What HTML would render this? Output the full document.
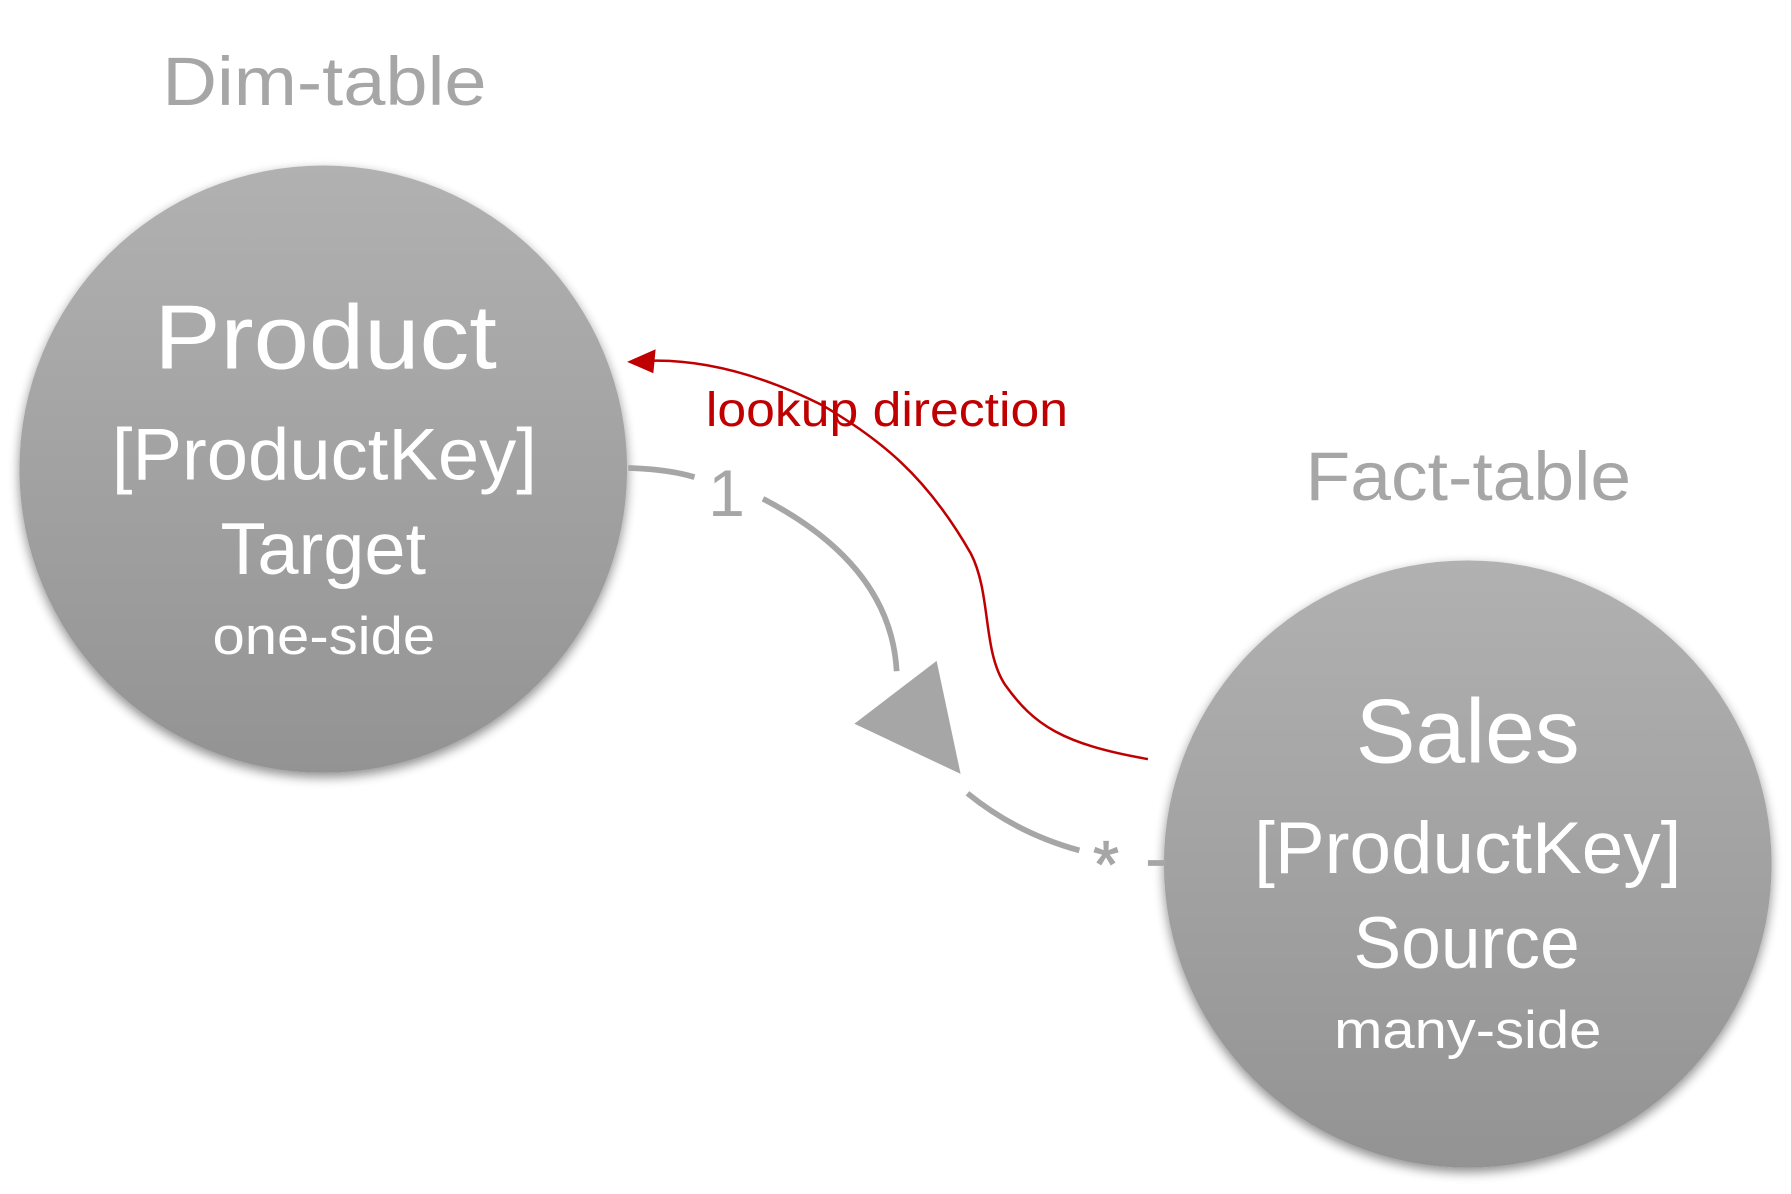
<!DOCTYPE html>
<html><head><meta charset="utf-8"><style>
html,body{margin:0;padding:0;background:#fff;}
svg{display:block;}
text{font-family:"Liberation Sans",sans-serif;}
</style></head><body>
<svg width="1791" height="1194" viewBox="0 0 1568 1046" preserveAspectRatio="none" xmlns="http://www.w3.org/2000/svg">
<defs>
<linearGradient id="g" x1="0" y1="0" x2="0" y2="1">
<stop offset="0" stop-color="#b1b1b1"/><stop offset="1" stop-color="#939393"/>
</linearGradient>
<filter id="sh" x="-20%" y="-20%" width="140%" height="140%">
<feGaussianBlur in="SourceAlpha" stdDeviation="5"/><feOffset dx="0" dy="4"/>
<feComponentTransfer><feFuncA type="linear" slope="0.45"/></feComponentTransfer>
<feMerge><feMergeNode/><feMergeNode in="SourceGraphic"/></feMerge>
</filter>
</defs>
<circle cx="283" cy="411" r="266" fill="url(#g)" filter="url(#sh)"/>
<circle cx="1285" cy="757" r="266" fill="url(#g)" filter="url(#sh)"/>

<text x="142" y="92" font-size="60" fill="#a6a6a6" textLength="284" lengthAdjust="spacingAndGlyphs">Dim-table</text>
<text x="1143" y="438" font-size="60" fill="#a6a6a6" textLength="285" lengthAdjust="spacingAndGlyphs">Fact-table</text>

<g fill="#fff">
<text x="135" y="323" font-size="80" textLength="300" lengthAdjust="spacingAndGlyphs">Product</text>
<text x="98" y="420" font-size="64" textLength="372" lengthAdjust="spacingAndGlyphs">[ProductKey]</text>
<text x="193" y="503" font-size="64" textLength="180" lengthAdjust="spacingAndGlyphs">Target</text>
<text x="186" y="573" font-size="46" textLength="195" lengthAdjust="spacingAndGlyphs">one-side</text>
<text x="1187" y="668" font-size="80" textLength="196" lengthAdjust="spacingAndGlyphs">Sales</text>
<text x="1098" y="765" font-size="64" textLength="374" lengthAdjust="spacingAndGlyphs">[ProductKey]</text>
<text x="1185" y="848" font-size="64" textLength="198" lengthAdjust="spacingAndGlyphs">Source</text>
<text x="1168" y="918" font-size="46" textLength="234" lengthAdjust="spacingAndGlyphs">many-side</text>
</g>

<g stroke="#a6a6a6" stroke-width="5" fill="none">
<path d="M550 410 Q585 411 608 418"/>
<path d="M668 437 Q780 495 785 588"/>
<path d="M847 695 Q890 730 945 745"/>
<path d="M1005 756 L1020 756"/>
</g>
<polygon points="748,634 820,579 841,678" fill="#a6a6a6"/>
<text x="620" y="452" font-size="58" fill="#a6a6a6">1</text>
<text x="957" y="777" font-size="58" fill="#a6a6a6" stroke="#a6a6a6" stroke-width="1">*</text>

<path d="M1005 665 C930 652 905 635 880 600 C860 570 868 520 850 485 C810 415 770 385 720 355 C670 330 620 315 570 316" stroke="#c00000" stroke-width="2.2" fill="none"/>
<polygon points="549,317 574,306 572,327" fill="#c00000"/>
<text x="618" y="373" font-size="42" fill="#c00000" textLength="317" lengthAdjust="spacingAndGlyphs">lookup direction</text>
</svg>
</body></html>
